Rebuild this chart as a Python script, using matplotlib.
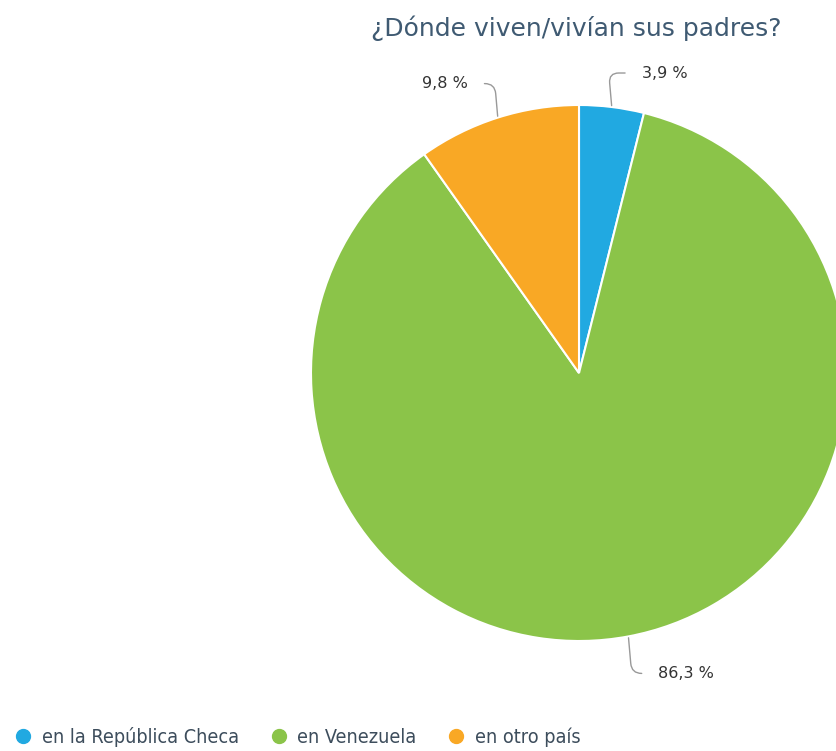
import numpy as np
import matplotlib
matplotlib.use('Agg')
from matplotlib import pyplot as plt
from matplotlib.lines import Line2D

plt.rcParams['font.family'] = ['DejaVu Sans']

categories = ['en la República Checa', 'en Venezuela', 'en otro país']
shares = [3.9, 86.3, 9.8]
colors = ['#21a9e1', '#8bc449', '#f9a825']
title = '¿Dónde viven/vivían sus padres?'

fig = plt.figure(figsize=(8.37, 7.51), dpi=100)
# pie axes sized so the circle runs a little past the right edge
ax = fig.add_axes([311/837, 110/751, 536/837, 536/751])
wedges, _ = ax.pie(shares, colors=colors, startangle=90, counterclock=False,
                   radius=1, wedgeprops=dict(edgecolor='white', linewidth=1.5))
ax.set_xlim(-1, 1)
ax.set_ylim(-1, 1)
ax.set_aspect('equal')
ax.axis('off')

for w, v in zip(wedges, shares):
    ang = np.deg2rad((w.theta1 + w.theta2) / 2)
    x, y = np.cos(ang), np.sin(ang)
    sx = 1 if x >= 0 else -1
    sy = 1 if y >= 0 else -1
    txt = f'{v:.1f}'.replace('.', ',') + ' %'
    ax.annotate(txt, xy=(x, y), xytext=(sx * 30, sy * 34 if sy > 0 else -37),
                textcoords='offset pixels', ha='left' if sx > 0 else 'right',
                va='center', fontsize=11.5, color='#333333',
                arrowprops=dict(arrowstyle='-', color='#999999', lw=1,
                                shrinkA=10, shrinkB=1,
                                connectionstyle='angle,angleA=0,angleB=95,rad=10'))

fig.text(0.689, 0.963, title, ha='center', va='center', fontsize=18,
         color='#3f5a72')

handles = [Line2D([], [], marker='o', linestyle='', markersize=10,
                  markerfacecolor=c, markeredgecolor=c) for c in colors]
fig.legend(handles, categories, loc='lower left', bbox_to_anchor=(-0.005, -0.018),
           ncol=3, frameon=False, handlelength=1.0, handletextpad=0.45,
           columnspacing=1.5,
           prop=dict(family='DejaVu Sans', size=14.2, stretch='condensed'),
           labelcolor='#3d4d5c')

fig.savefig('out.png', dpi=100)
